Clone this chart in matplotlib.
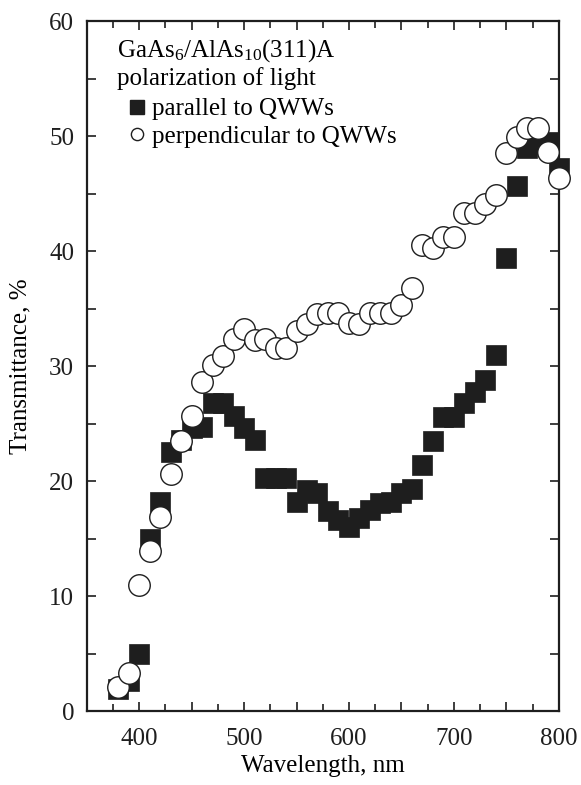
import matplotlib
matplotlib.use("Agg")
import matplotlib.pyplot as plt
from matplotlib.ticker import MultipleLocator, FuncFormatter

plt.rcParams['font.family'] = ['Liberation Serif', 'DejaVu Serif']
plt.rcParams['mathtext.fontset'] = 'custom'
plt.rcParams['mathtext.rm'] = 'Liberation Serif'
plt.rcParams['mathtext.it'] = 'Liberation Serif:italic'

# wavelength grid, nm
wavelength = list(range(380, 810, 10))

# polarization parallel to QWWs (filled squares)
parallel = [1.9, 2.6, 5.0, 15.0, 18.2, 22.5, 23.6, 24.6, 24.7, 26.8,
            26.8, 25.7, 24.6, 23.6, 20.3, 20.3, 20.3, 18.2, 19.2, 19.0,
            17.4, 16.6, 16.0, 16.8, 17.5, 18.1, 18.2, 19.0, 19.3, 21.4,
            23.5, 25.6, 25.6, 26.8, 27.8, 28.8, 31.0, 39.4, 45.7, 49.0,
            49.3, 49.5, 47.2]

# polarization perpendicular to QWWs (open circles)
perpendicular = [2.1, 3.3, 11.0, 13.9, 16.9, 20.6, 23.5, 25.7, 28.6, 30.1,
                 30.9, 32.4, 33.2, 32.3, 32.4, 31.6, 31.6, 33.1, 33.7, 34.5,
                 34.6, 34.6, 33.8, 33.7, 34.6, 34.6, 34.6, 35.3, 36.8, 40.5,
                 40.3, 41.2, 41.2, 43.3, 43.3, 44.1, 44.9, 48.5, 49.9, 50.7,
                 50.7, 48.6, 46.4]

FS = 18
INK = '#1e1e1e'

fig = plt.figure(figsize=(5.81, 7.85), dpi=100)
ax = fig.add_axes([0.149, 0.094, 0.813, 0.879])

ax.plot(wavelength, parallel, ls='none', marker='s', ms=14.2,
        mfc=INK, mec=INK, mew=0.5, clip_on=False, zorder=3)
ax.plot(wavelength, perpendicular, ls='none', marker='o', ms=15.5,
        mfc='white', mec=INK, mew=1.0, clip_on=False, zorder=4)

ax.set_xlim(350, 800)
ax.set_ylim(0, 60)

ax.xaxis.set_major_locator(MultipleLocator(50))
ax.xaxis.set_minor_locator(MultipleLocator(25))
ax.xaxis.set_major_formatter(FuncFormatter(
    lambda v, p: '%d' % v if v % 100 == 0 else ''))
ax.yaxis.set_major_locator(MultipleLocator(10))
ax.yaxis.set_minor_locator(MultipleLocator(5))

ax.tick_params(which='both', direction='in', top=True, right=True,
               width=1.2, colors=INK, labelsize=FS)
ax.tick_params(which='major', length=6.5)
ax.tick_params(which='minor', length=5)
ax.tick_params(axis='y', which='minor', length=6.5)
ax.tick_params(axis='x', pad=12)
ax.tick_params(axis='y', pad=9)
for s in ax.spines.values():
    s.set_linewidth(1.6)
    s.set_color(INK)

ax.set_xlabel('Wavelength, nm', fontsize=FS, labelpad=4)
ax.set_ylabel('Transmittance, %', fontsize=FS, labelpad=12.5)

ax.text(0.0645, 0.948, 'GaAs$_6$/AlAs$_{10}$(311)A', transform=ax.transAxes,
        fontsize=FS, va='baseline', ha='left')
ax.text(0.0645, 0.907, 'polarization of light', transform=ax.transAxes,
        fontsize=FS, va='baseline', ha='left')

h1, = ax.plot([], [], ls='none', marker='s', ms=9.5, mfc=INK,
              mec=INK, label='parallel to QWWs')
h2, = ax.plot([], [], ls='none', marker='o', ms=8.8, mfc='white',
              mec=INK, mew=1.0, label='perpendicular to QWWs')
ax.legend(handles=[h1, h2], loc='upper left', bbox_to_anchor=(0.091, 0.889),
          frameon=False, fontsize=FS, handlelength=0.6, handletextpad=0.3,
          labelspacing=0.2, borderaxespad=0, borderpad=0)

fig.savefig('out.png', dpi=100)
